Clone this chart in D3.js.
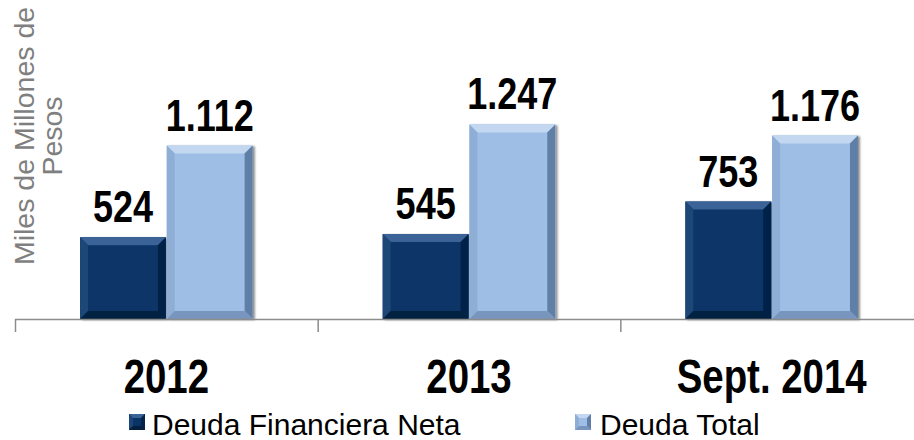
<!DOCTYPE html>
<html>
<head>
<meta charset="utf-8">
<script src="https://cdn.jsdelivr.net/npm/d3@7"></script>
<style>
  html, body { margin: 0; padding: 0; background: #fff; }
  svg { display: block; }
  .value, .cat { font-family: "Liberation Sans", Arial, sans-serif; font-weight: bold; fill: #000; }
  .ytitle { font-family: "Liberation Sans", Arial, sans-serif; fill: #7f7f7f; }
  .legend { font-family: "Liberation Sans", Arial, sans-serif; fill: #000; }
</style>
</head>
<body>
<div id="chart"></div>
<script>
const categories = ["2012", "2013", "Sept. 2014"];
const seriesNames = ["Deuda Financiera Neta", "Deuda Total"];
const deudaNeta = [524, 545, 753];
const deudaTotal = [1112, 1247, 1176];
const valueLabels = [["524", "1.112"], ["545", "1.247"], ["753", "1.176"]];

const width = 914;
const height = 440;
// the original uses a narrow bold face; squeeze the regular one instead
const narrow = 0.8;

// colours for each series: base, top, left, right, bottom bevels
const palette = [
  { base: "#0a3468", top: "#3a6398", left: "#1c4677", right: "#06244a", bottom: "#05203f" },
  { base: "#9ebee5", top: "#c3d7f0", left: "#8eaed6", right: "#607fa6", bottom: "#7896bd" },
];

const svg = d3.select("#chart").append("svg")
  .attr("width", width)
  .attr("height", height);

const defs = svg.append("defs");
const shadow = defs.append("filter").attr("id", "shadow")
  .attr("x", "-10%").attr("y", "-10%").attr("width", "130%").attr("height", "130%");
shadow.append("feDropShadow")
  .attr("dx", 2).attr("dy", 1).attr("stdDeviation", 1.2)
  .attr("flood-color", "#000").attr("flood-opacity", 0.45);

const x0 = d3.scaleBand().domain(categories).range([15, 923]).padding(0);
const x1 = d3.scaleBand().domain(seriesNames).range([0, x0.step()])
  .paddingInner(0.01).paddingOuter(0.75);
const y = d3.scaleLinear().domain([0, 2000]).range([319, 7]);

function bevelBar(g, bx, by, bw, bh, col, b) {
  const grp = g.append("g");
  grp.append("rect").attr("x", bx).attr("y", by).attr("width", bw).attr("height", bh)
    .attr("fill", col.base);
  const poly = (pts, fill) => grp.append("polygon")
    .attr("points", pts.map(p => p.join(",")).join(" "))
    .attr("fill", fill);
  poly([[bx, by], [bx + bw, by], [bx + bw - b, by + b], [bx + b, by + b]], col.top);
  poly([[bx, by], [bx + b, by + b], [bx + b, by + bh - b], [bx, by + bh]], col.left);
  poly([[bx + bw, by], [bx + bw, by + bh], [bx + bw - b, by + bh - b], [bx + bw - b, by + b]], col.right);
  poly([[bx, by + bh], [bx + b, by + bh - b], [bx + bw - b, by + bh - b], [bx + bw, by + bh]], col.bottom);
  return grp;
}

const rows = categories.map((c, i) => ({ cat: c, values: [deudaNeta[i], deudaTotal[i]], labels: valueLabels[i] }));

const groups = svg.append("g").selectAll("g.group")
  .data(rows)
  .join("g")
  .attr("class", "group")
  .attr("transform", d => `translate(${x0(d.cat)},0)`);

groups.each(function (d) {
  const g = d3.select(this);
  d.values.forEach((v, k) => {
    const bx = x1(seriesNames[k]);
    const bw = x1.bandwidth();
    const by = y(v);
    const bh = y(0) - y(v);
    bevelBar(g, bx, by, bw, bh, palette[k], 8).attr("filter", "url(#shadow)");
    g.append("text")
      .attr("class", "value")
      .attr("transform", `translate(${bx + bw / 2},${by - 15}) scale(${narrow},1)`)
      .attr("text-anchor", "middle")
      .attr("font-size", 45)
      .text(d.labels[k]);
  });
});

// axis line and ticks at category boundaries
const axis = svg.append("g");
axis.append("line")
  .attr("x1", x0.range()[0]).attr("x2", x0.range()[1])
  .attr("y1", y(0) + 0.5).attr("y2", y(0) + 0.5)
  .attr("stroke", "#8c8c8c").attr("stroke-width", 1.5);
const bounds = categories.map(c => x0(c)).concat([x0.range()[1]]);
axis.selectAll("line.tick")
  .data(bounds)
  .join("line")
  .attr("class", "tick")
  .attr("x1", d => d + 0.5).attr("x2", d => d + 0.5)
  .attr("y1", y(0)).attr("y2", y(0) + 13)
  .attr("stroke", "#8c8c8c").attr("stroke-width", 1.5);

svg.append("g").selectAll("text.cat")
  .data(categories)
  .join("text")
  .attr("class", "cat")
  .attr("transform", d => `translate(${x0(d) + x0.bandwidth() / 2},393) scale(${narrow},1)`)
  .attr("text-anchor", "middle")
  .attr("font-size", 48)
  .text(d => d);

// y axis title, two lines rotated
const ytitle = svg.append("text")
  .attr("class", "ytitle")
  .attr("font-size", 28.5)
  .attr("text-anchor", "middle")
  .attr("transform", "translate(34,136) rotate(-90)");
ytitle.append("tspan").attr("x", 0).attr("y", 0).text("Miles de Millones de");
ytitle.append("tspan").attr("x", 0).attr("y", 28).text("Pesos");

// legend
const legendX = [129, 575];
const legend = svg.append("g").selectAll("g.legend-item")
  .data(seriesNames)
  .join("g")
  .attr("class", "legend-item")
  .attr("transform", (d, i) => `translate(${legendX[i]},414)`);
legend.each(function (d, i) {
  const g = d3.select(this);
  bevelBar(g, 0, 0, 16, 16, palette[i], 4);
  g.append("text")
    .attr("class", "legend")
    .attr("x", i === 0 ? 23 : 25)
    .attr("y", 20.5)
    .attr("font-size", 30)
    .text(d);
});
</script>
</body>
</html>
